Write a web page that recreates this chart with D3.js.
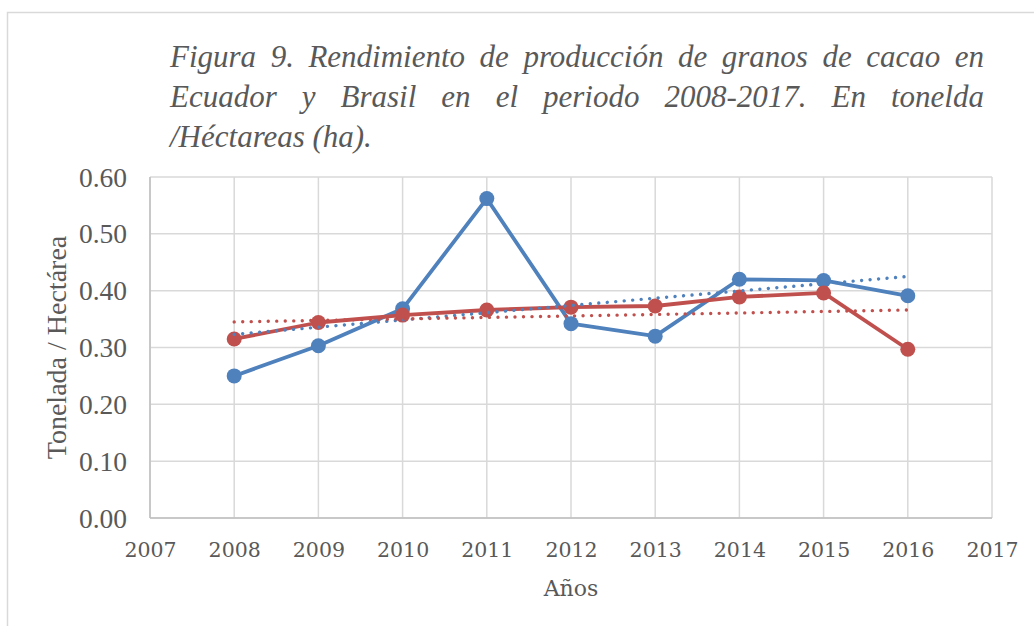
<!DOCTYPE html>
<html>
<head>
<meta charset="utf-8">
<script src="https://cdn.jsdelivr.net/npm/d3@7"></script>
<style>
  html, body { margin: 0; padding: 0; background: #fff; }
  svg { display: block; }
</style>
</head>
<body>
<svg id="chart" width="1034" height="626"></svg>
<script>
// ---- data ----
const years = [2008, 2009, 2010, 2011, 2012, 2013, 2014, 2015, 2016];
const ecuador = [0.250, 0.303, 0.368, 0.562, 0.342, 0.320, 0.420, 0.418, 0.391];
const brasil  = [0.315, 0.344, 0.357, 0.366, 0.371, 0.373, 0.389, 0.396, 0.297];
const trendYears = [2008, 2016];
const ecuadorTrend = [0.323, 0.425];
const brasilTrend  = [0.345, 0.366];
const xTicks = [2007, 2008, 2009, 2010, 2011, 2012, 2013, 2014, 2015, 2016, 2017];
const yTicks = [0, 0.1, 0.2, 0.3, 0.4, 0.5, 0.6];
const titleLines = [
  "Figura 9. Rendimiento de producción de granos de cacao en",
  "Ecuador y Brasil en el periodo 2008-2017. En tonelda",
  "/Héctareas (ha)."
];
const yLabel = "Tonelada / Hectárea";
const xLabel = "Años";

// ---- layout ----
const svg = d3.select("#chart");
const pL = 150, pR = 992, pT = 177, pB = 518;
const blue = "#4F81BD", red = "#C0504D";
const serif = "'Liberation Serif', 'Times New Roman', serif";

// outer frame
svg.append("rect").attr("x", 7.5).attr("y", 12.5).attr("width", 1040).attr("height", 640)
  .attr("fill", "none").attr("stroke", "#D9D9D9").attr("stroke-width", 1.5);

const x = d3.scaleLinear().domain([2007, 2017]).range([pL, pR]);
const y = d3.scaleLinear().domain([0, 0.6]).range([pB, pT]);

// grid
const grid = svg.append("g");
grid.selectAll("line.h").data(yTicks).join("line").attr("class", "h")
  .attr("x1", pL).attr("x2", pR)
  .attr("y1", d => y(d)).attr("y2", d => y(d))
  .attr("stroke", "#D9D9D9").attr("stroke-width", 1.5);
grid.selectAll("line.v").data(xTicks).join("line").attr("class", "v")
  .attr("x1", d => x(d)).attr("x2", d => x(d))
  .attr("y1", pT).attr("y2", pB)
  .attr("stroke", "#D9D9D9").attr("stroke-width", 1.5);
// axis lines
svg.append("line").attr("x1", pL).attr("x2", pR).attr("y1", pB).attr("y2", pB)
  .attr("stroke", "#BFBFBF").attr("stroke-width", 1.5);
svg.append("line").attr("x1", pL).attr("x2", pL).attr("y1", pT).attr("y2", pB)
  .attr("stroke", "#BFBFBF").attr("stroke-width", 1.5);

// axes (labels only)
const yAxis = d3.axisLeft(y).tickValues(yTicks).tickFormat(d3.format(".2f")).tickSize(0).tickPadding(23);
const gy = svg.append("g").attr("transform", `translate(${pL},0)`).call(yAxis);
gy.select(".domain").remove();
gy.selectAll("text").attr("font-family", serif)
  .attr("font-size", 27.5).attr("fill", "#595959").attr("dy", "0.33em");

const xAxis = d3.axisBottom(x).tickValues(xTicks).tickFormat(d3.format("d")).tickSize(0).tickPadding(24);
const gx = svg.append("g").attr("transform", `translate(0,${pB})`).call(xAxis);
gx.select(".domain").remove();
gx.selectAll("text").attr("font-family", "'DejaVu Serif', serif")
  .attr("font-size", 20.5).attr("fill", "#595959").attr("dy", "0.71em");

// axis titles
svg.append("text").attr("transform", `translate(66,${(pT + pB) / 2}) rotate(-90)`)
  .attr("text-anchor", "middle")
  .attr("font-family", serif)
  .attr("font-size", 28).attr("fill", "#595959").text(yLabel);
svg.append("text").attr("x", (pL + pR) / 2).attr("y", 596)
  .attr("text-anchor", "middle")
  .attr("font-family", "'DejaVu Serif', serif")
  .attr("font-size", 22).attr("fill", "#595959").text(xLabel);

// series
const line = d3.line().x(d => x(d[0])).y(d => y(d[1]));
function drawSeries(vals, color) {
  const pts = years.map((yr, i) => [yr, vals[i]]);
  svg.append("path").datum(pts).attr("d", line)
    .attr("fill", "none").attr("stroke", color).attr("stroke-width", 3.8)
    .attr("stroke-linejoin", "round").attr("stroke-linecap", "round");
  svg.append("g").selectAll("circle").data(pts).join("circle")
    .attr("cx", d => x(d[0])).attr("cy", d => y(d[1])).attr("r", 7.5).attr("fill", color);
}
drawSeries(ecuador, blue);
drawSeries(brasil, red);

function drawTrend(vals, color) {
  const pts = trendYears.map((yr, i) => [yr, vals[i]]);
  svg.append("path").datum(pts).attr("d", line)
    .attr("fill", "none").attr("stroke", color).attr("stroke-width", 3.4)
    .attr("stroke-linecap", "round").attr("stroke-dasharray", "0.01 8.5");
}
drawTrend(ecuadorTrend, blue);
drawTrend(brasilTrend, red);

// title (justified lines)
const tx0 = 170, tx1 = 984, baselines = [67, 107, 147];
titleLines.forEach((ln, li) => {
  const words = ln.split(" ");
  const g = svg.append("g");
  const nodes = words.map(w => g.append("text")
    .attr("y", baselines[li])
    .attr("font-family", serif)
    .attr("font-style", "italic").attr("font-size", 31).attr("fill", "#595959")
    .text(w));
  const widths = nodes.map(n => n.node().getComputedTextLength());
  const total = d3.sum(widths);
  const justify = li < titleLines.length - 1 && words.length > 1;
  const gap = justify ? (tx1 - tx0 - total) / (words.length - 1) : 7.5;
  let cx = tx0;
  nodes.forEach((n, i) => { n.attr("x", cx); cx += widths[i] + gap; });
});
</script>
</body>
</html>
